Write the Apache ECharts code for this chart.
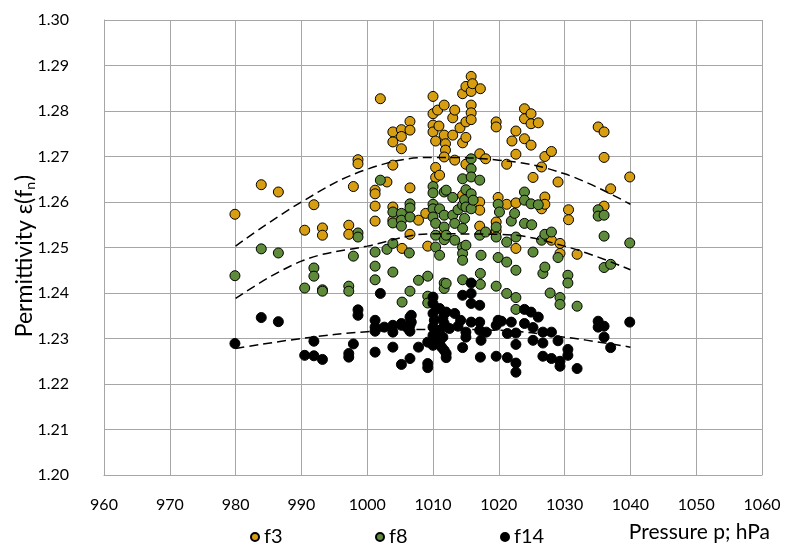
<!DOCTYPE html>
<html>
<head>
<meta charset="utf-8">
<script src="https://cdn.jsdelivr.net/npm/echarts@6/dist/echarts.min.js"></script>
<style>html,body{margin:0;padding:0;background:#fff}#c{width:796px;height:556px}</style>
</head>
<body>
<div id="c"></div>
<script>
var xTicks = [960, 970, 980, 990, 1000, 1010, 1020, 1030, 1040, 1050, 1060];
var yTicks = [1.20, 1.21, 1.22, 1.23, 1.24, 1.25, 1.26, 1.27, 1.28, 1.29, 1.30];
var seriesNames = ['f3', 'f8', 'f14'];

var f3Points = [
[979.9,1.2573],[983.9,1.2638],[986.5,1.2622],[991.9,1.2594],[990.5,1.2538],[993.2,1.2543],[993.2,1.2527],
[997.2,1.2549],[997.2,1.2529],[997.9,1.2634],[998.6,1.2693],[998.6,1.2684],
[1001.2,1.2626],[1001.2,1.2618],[1001.2,1.2591],[1001.2,1.2558],[1002.0,1.2827],[1003.0,1.2644],
[1003.9,1.2754],[1003.9,1.2732],[1003.9,1.2681],[1003.9,1.2589],[1003.9,1.2560],
[1005.2,1.2759],[1005.2,1.2744],[1005.2,1.2717],[1005.3,1.2498],
[1006.5,1.2777],[1006.5,1.2758],[1006.5,1.2631],[1006.5,1.2529],
[1007.8,1.2560],[1008.9,1.2575],[1009.2,1.2503],
[1010.0,1.2832],[1010.0,1.2794],[1010.0,1.2769],[1010.0,1.2754],[1010.4,1.2734],[1010.4,1.2676],[1010.4,1.2654],[1010.7,1.2802],[1010.9,1.2767],[1011.0,1.2659],
[1011.7,1.2813],[1011.7,1.2747],[1011.9,1.2728],[1011.9,1.2714],[1011.7,1.2699],[1011.7,1.2531],
[1013.0,1.2785],[1013.0,1.2747],[1013.3,1.2802],[1013.3,1.2692],
[1014.1,1.2763],[1014.5,1.2838],[1014.5,1.2730],[1014.5,1.2615],
[1015.0,1.2854],[1015.0,1.2776],[1015.0,1.2742],[1015.0,1.2683],
[1015.8,1.2876],[1015.8,1.2843],[1015.8,1.2813],[1015.8,1.2796],[1015.8,1.2781],[1016.0,1.2860],
[1017.1,1.2706],[1017.1,1.2600],[1017.1,1.2582],[1017.1,1.2547],[1017.2,1.2849],[1018.0,1.2695],
[1019.6,1.2776],[1019.6,1.2765],[1019.9,1.2610],[1019.6,1.2556],[1019.6,1.2536],
[1021.2,1.2683],[1021.2,1.2595],[1022.0,1.2734],[1022.6,1.2756],[1022.6,1.2705],[1022.6,1.2598],[1022.6,1.2498],
[1023.9,1.2805],[1023.9,1.2783],[1023.9,1.2739],[1024.9,1.2794],[1024.9,1.2772],[1024.9,1.2725],[1026.0,1.2774],
[1025.2,1.2654],[1026.5,1.2677],[1026.5,1.2585],[1027.0,1.2700],[1027.0,1.2611],[1027.0,1.2595],[1028.0,1.2711],[1028.0,1.2516],
[1029.0,1.2644],[1029.3,1.2509],[1029.3,1.2487],[1030.6,1.2583],[1030.6,1.2561],[1031.9,1.2485],
[1035.1,1.2765],[1036.0,1.2754],[1036.0,1.2698],[1036.0,1.2591],[1037.0,1.2629],[1039.9,1.2655]
];

var f8Points = [
[979.9,1.2438],[983.9,1.2497],[986.5,1.2488],[991.9,1.2455],[991.9,1.2437],[990.5,1.2411],[993.2,1.2407],[993.2,1.2404],
[997.2,1.2415],[997.2,1.2404],[997.9,1.2481],[998.6,1.2532],[998.6,1.2523],
[1001.2,1.2490],[1001.2,1.2459],[1001.2,1.2429],[1002.0,1.2648],[1003.0,1.2496],[1003.9,1.2578],[1003.9,1.2554],[1003.9,1.2509],[1003.9,1.2446],
[1005.2,1.2575],[1005.2,1.2560],[1005.2,1.2547],[1005.3,1.2380],
[1006.5,1.2596],[1006.5,1.2587],[1006.5,1.2567],[1006.4,1.2488],[1006.5,1.2404],
[1007.8,1.2428],[1009.2,1.2437],[1009.2,1.2393],[1009.2,1.2378],
[1010.0,1.2634],[1010.0,1.2620],[1010.0,1.2595],[1010.0,1.2585],[1010.0,1.2567],[1010.4,1.2553],[1010.4,1.2527],[1010.4,1.2501],[1011.0,1.2585],[1011.0,1.2483],
[1011.7,1.2622],[1011.7,1.2571],[1011.7,1.2545],[1011.7,1.2517],[1011.7,1.2422],[1011.7,1.2410],
[1012.0,1.2626],[1012.0,1.2527],[1012.0,1.2421],
[1013.0,1.2610],[1013.0,1.2571],[1013.3,1.2553],[1013.3,1.2516],[1013.8,1.2583],
[1014.5,1.2651],[1014.5,1.2593],[1014.5,1.2542],[1014.5,1.2501],[1014.5,1.2487],[1014.5,1.2472],[1014.5,1.2429],[1014.8,1.2605],[1014.8,1.2564],
[1015.0,1.2627],[1015.0,1.2589],[1015.0,1.2505],
[1015.8,1.2695],[1015.8,1.2673],[1015.8,1.2655],[1015.8,1.2618],[1015.8,1.2585],[1016.1,1.2604],
[1017.1,1.2648],[1017.1,1.2527],[1017.3,1.2483],[1017.2,1.2443],[1017.2,1.2419],[1018.0,1.2534],
[1019.6,1.2545],[1019.6,1.2523],[1019.9,1.2595],[1019.9,1.2478],[1019.6,1.2415],
[1020.1,1.2578],[1021.2,1.2512],[1021.2,1.2468],[1021.2,1.2399],[1021.9,1.2558],[1022.4,1.2575],[1022.6,1.2523],[1022.6,1.2450],[1022.6,1.2390],[1022.6,1.2364],
[1023.9,1.2622],[1023.9,1.2604],[1023.9,1.2553],[1024.9,1.2596],[1025.0,1.2550],[1025.2,1.2490],[1026.0,1.2594],
[1026.5,1.2516],[1026.7,1.2443],[1027.0,1.2529],[1027.0,1.2457],[1027.8,1.2400],[1028.0,1.2534],
[1029.0,1.2478],[1029.3,1.2390],[1029.3,1.2375],[1030.5,1.2439],[1030.5,1.2422],[1031.9,1.2371],
[1035.1,1.2583],[1035.1,1.2569],[1036.0,1.2571],[1036.0,1.2525],[1036.0,1.2456],[1037.0,1.2463],[1039.9,1.2510]
];

var f14Points = [
[979.9,1.2289],[983.9,1.2346],[986.5,1.2337],[991.9,1.2294],[990.5,1.2263],[991.9,1.2262],[993.2,1.2254],
[997.2,1.2267],[997.2,1.2259],[997.9,1.2288],[998.6,1.2363],[998.6,1.2351],
[1001.2,1.2340],[1001.2,1.2325],[1001.2,1.2316],[1001.2,1.2270],[1002.0,1.2399],[1002.6,1.2325],
[1003.9,1.2329],[1003.9,1.2314],[1003.9,1.2281],[1005.2,1.2333],[1005.2,1.2329],[1005.2,1.2243],
[1006.5,1.2347],[1006.5,1.2329],[1006.5,1.2316],[1006.7,1.2351],[1006.7,1.2336],[1006.2,1.2322],[1006.5,1.2256],
[1007.8,1.2281],[1009.2,1.2292],[1009.2,1.2245],[1009.2,1.2236],
[1010.0,1.2391],[1010.0,1.2377],[1010.0,1.2355],[1010.2,1.2340],[1010.0,1.2325],[1010.0,1.2307],[1010.0,1.2285],
[1011.0,1.2366],[1011.0,1.2318],[1011.0,1.2296],[1011.0,1.2289],[1011.3,1.2281],[1011.5,1.2344],[1011.5,1.2303],[1011.7,1.2355],[1011.7,1.2333],[1011.7,1.2274],
[1012.0,1.2358],[1012.0,1.2267],[1012.0,1.2258],[1012.5,1.2322],[1013.3,1.2355],[1013.8,1.2327],
[1014.2,1.2340],[1014.5,1.2395],[1014.5,1.2280],[1015.0,1.2314],[1015.0,1.2303],
[1015.8,1.2422],[1015.8,1.2399],[1015.8,1.2377],[1015.8,1.2336],
[1017.1,1.2373],[1017.1,1.2336],[1017.1,1.2318],[1017.3,1.2296],[1017.2,1.2259],[1018.1,1.2314],
[1019.6,1.2329],[1019.9,1.2340],[1019.6,1.2261],
[1020.4,1.2338],[1021.3,1.2311],[1021.3,1.2258],[1021.9,1.2336],[1022.6,1.2312],[1022.6,1.2287],[1022.6,1.2246],[1022.6,1.2226],
[1023.9,1.2364],[1023.9,1.2333],[1024.9,1.2358],[1025.2,1.2324],[1025.2,1.2296],[1026.0,1.2347],
[1026.7,1.2314],[1026.7,1.2290],[1026.7,1.2261],[1028.0,1.2314],[1028.0,1.2256],[1029.0,1.2295],[1029.3,1.2250],[1029.3,1.2239],[1030.5,1.2276],[1030.5,1.2263],[1031.9,1.2234],
[1035.1,1.2338],[1035.1,1.2325],[1036.0,1.2327],[1036.0,1.2303],[1037.0,1.2280],[1039.9,1.2336]
];

// dashed trend curves
var trendX = [980, 990, 1000, 1010, 1020, 1030, 1040];
var f3Trend = [1.2503, 1.2600, 1.2672, 1.2698, 1.2692, 1.2662, 1.2595];
var f8Trend = [1.2388, 1.2470, 1.2503, 1.2530, 1.2529, 1.2503, 1.2451];
var f14Trend = [1.2278, 1.2300, 1.2315, 1.2320, 1.2318, 1.2303, 1.2281];

var colors = {f3: '#D69E10', f8: '#5E8B3A', f14: '#000000'};
var FONT = 'Lato';

function pair(xs, ys) { return xs.map(function (x, i) { return [x, ys[i]]; }); }

function scatter(name, pts) {
  return {
    name: name, type: 'scatter', data: pts, symbol: 'circle', symbolSize: 10,
    itemStyle: {color: colors[name], borderColor: '#000', borderWidth: 1, opacity: 1},
    z: 3
  };
}
function trend(pts) {
  return {
    type: 'line', data: pts, smooth: 0.4, showSymbol: false, symbol: 'none', silent: true,
    lineStyle: {color: '#000', width: 1.5, type: [9, 5]}, z: 4
  };
}
function legendAt(name, left) {
  return {
    data: [{name: name, icon: 'circle'}], left: left, top: 522, itemWidth: 8, itemHeight: 8, itemTextGap: 9,
    textStyle: {fontFamily: FONT, fontSize: 20, color: '#000'}, selectedMode: false
  };
}

var chart = echarts.init(document.getElementById('c'), null, {renderer: 'canvas'});
chart.setOption({
  animation: false,
  backgroundColor: '#fff',
  grid: {left: 104, right: 34, top: 20, bottom: 81, containLabel: false},
  xAxis: {
    type: 'value', min: xTicks[0], max: xTicks[xTicks.length - 1], interval: 10,
    axisLine: {show: true, lineStyle: {color: '#A6A6A6', width: 1}},
    axisTick: {show: false},
    axisLabel: {margin: 22, fontFamily: FONT, fontSize: 16, color: '#000',
      formatter: function (v) { return String(v); }},
    splitLine: {show: true, lineStyle: {color: '#A6A6A6', width: 1}}
  },
  yAxis: {
    type: 'value', min: yTicks[0], max: yTicks[yTicks.length - 1], interval: 0.01,
    axisLine: {show: true, lineStyle: {color: '#A6A6A6', width: 1}},
    axisTick: {show: false},
    axisLabel: {margin: 35, fontFamily: FONT, fontSize: 16, color: '#000',
      formatter: function (v) { return v.toFixed(2); }},
    splitLine: {show: true, lineStyle: {color: '#A6A6A6', width: 1}}
  },
  legend: [legendAt('f3', 245), legendAt('f8', 370), legendAt('f14', 495)],
  graphic: [{
    type: 'text', right: 26, top: 522,
    style: {text: 'Pressure p; hPa', fontFamily: FONT, fontSize: 21, fill: '#000'}
  }, {
    type: 'text', x: 25, y: 256, rotation: Math.PI / 2,
    style: {
      text: 'Permittivity ε(f{sub|n})', fontFamily: FONT, fontSize: 23, fill: '#000',
      align: 'center', verticalAlign: 'middle',
      rich: {sub: {fontFamily: FONT, fontSize: 14, fill: '#000', padding: [10, 1, 0, 0]}}
    }
  }],
  series: [
    scatter('f3', f3Points),
    scatter('f8', f8Points),
    scatter('f14', f14Points),
    trend(pair(trendX, f3Trend)),
    trend(pair(trendX, f8Trend)),
    trend(pair(trendX, f14Trend))
  ]
});
</script>
</body>
</html>
